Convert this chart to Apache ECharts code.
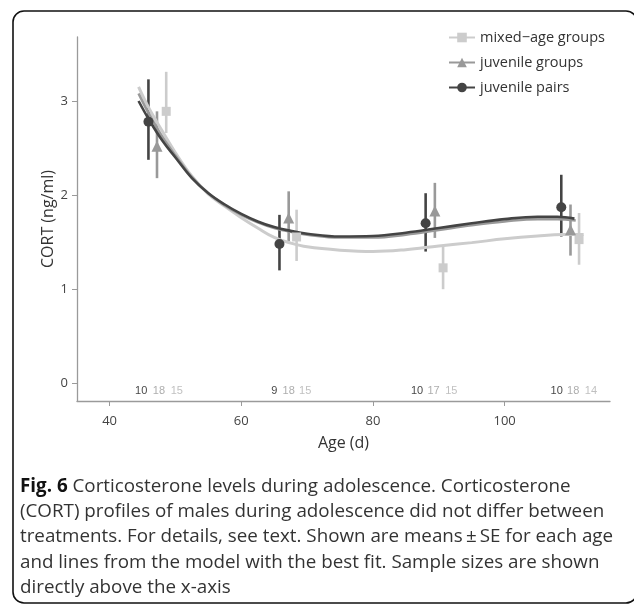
<!DOCTYPE html>
<html><head><meta charset="utf-8">
<script src="https://cdn.jsdelivr.net/npm/echarts@6/dist/echarts.min.js"></script>
<style>html,body{margin:0;padding:0;background:#fff}#c{width:634px;height:605px}</style>
</head><body><div id="c"></div>
<script>
// ---- data ----
const seriesNames = ['mixed\u2212age groups', 'juvenile groups', 'juvenile pairs'];
// point means and SE bounds: [age, mean, low, high]
const mixedPoints = [[48.6, 2.89, 2.66, 3.31], [68.4, 1.555, 1.30, 1.845], [90.65, 1.227, 1.00, 1.456], [111.3, 1.527, 1.26, 1.81]];
const groupPoints = [[47.2, 2.52, 2.18, 2.89], [67.2, 1.757, 1.51, 2.04], [89.4, 1.83, 1.545, 2.13], [110.0, 1.633, 1.357, 1.90]];
const pairPoints  = [[45.9, 2.78, 2.375, 3.23], [65.8, 1.48, 1.20, 1.79], [88.0, 1.70, 1.40, 2.02], [108.6, 1.87, 1.56, 2.216]];
// model fit curves [age, CORT]
const mixedCurve = [[44.4,3.15],[46,2.92],[48,2.68],[50,2.45],[52.5,2.20],[55,2.01],[57.5,1.88],[60,1.76],[62.5,1.65],[65,1.55],[67.5,1.49],[70,1.45],[75,1.415],[80,1.40],[85,1.42],[90,1.46],[95,1.495],[100,1.535],[105,1.565],[108.8,1.58],[112,1.58]];
const groupCurve = [[44.4,3.08],[46,2.86],[48,2.62],[50,2.42],[52.5,2.19],[55,2.02],[57.5,1.89],[60,1.79],[62.5,1.71],[65,1.65],[67.5,1.61],[70,1.58],[75,1.55],[80,1.55],[85,1.58],[90,1.63],[95,1.68],[100,1.72],[105,1.745],[108,1.745],[110.8,1.73]];
const pairCurve  = [[44.4,3.00],[46,2.80],[48,2.58],[50,2.40],[52.5,2.18],[55,2.02],[57.5,1.90],[60,1.80],[62.5,1.72],[65,1.66],[67.5,1.62],[70,1.59],[75,1.56],[80,1.565],[85,1.60],[90,1.65],[95,1.70],[100,1.745],[105,1.77],[108,1.77],[110.6,1.75]];
// sample sizes [labelAge, n]
const pairN  = [[44.8, 10], [65.0, 9], [86.7, 10], [107.9, 10]];
const groupN = [[47.5, 18], [67.2, 18], [89.2, 17], [110.4, 18]];
const mixedN = [[50.2, 15], [69.7, 15], [91.9, 15], [113.1, 14]];
const xTicks = [40, 60, 80, 100];
const yTicks = [0, 1, 2, 3];
const captionLines = [
  ['Fig. 6', ' Corticosterone levels during adolescence. Corticosterone'],
  ['', '(CORT) profiles of males during adolescence did not differ between'],
  ['', 'treatments. For details, see text. Shown are means\u2009\u00b1\u2009SE for each age'],
  ['', 'and lines from the model with the best fit. Sample sizes are shown'],
  ['', 'directly above the x-axis']
];

// ---- styles ----
const colors = ['#cccccc', '#999999', '#444444'];
const nColors = ['#b0b0b0', '#999999', '#111111'];
const symbols = ['rect', 'triangle', 'circle'];
const symSizes = [9, 11, 10];
const FONT = 'Open Sans';
const N_Y = -0.085;

const chart = echarts.init(document.getElementById('c'), null, {renderer: 'canvas'});

function errBar(name, pts, color) {
  return {
    type: 'custom', name: name, silent: true, z: 2,
    data: pts.map(p => [p[0], p[2], p[3]]),
    renderItem: (params, api) => {
      const a = api.coord([api.value(0), api.value(1)]);
      const b = api.coord([api.value(0), api.value(2)]);
      return {type: 'line', shape: {x1: a[0], y1: a[1], x2: b[0], y2: b[1]},
        style: {stroke: color, lineWidth: 2.6}};
    }
  };
}
function curve(name, data, i) {
  return {type: 'line', name: name, data: data, smooth: 0.4, showSymbol: false,
    symbol: symbols[i], symbolSize: symSizes[i], z: 3, silent: true,
    lineStyle: {color: colors[i], width: i === 0 ? 3 : 2.6},
    itemStyle: {color: colors[i]}};
}
function points(name, pts, i) {
  return {type: 'scatter', name: name, data: pts.map(p => [p[0], p[1]]),
    symbol: symbols[i], symbolSize: symSizes[i], z: 4, silent: true,
    itemStyle: {color: colors[i], opacity: 1}};
}
function nLabels(name, arr, i) {
  return {type: 'scatter', name: name + ' n', data: arr.map(p => [p[0], N_Y, p[1]]),
    symbolSize: 0, silent: true, z: 5,
    label: {show: true, position: 'inside', formatter: p => String(p.value[2]),
      color: nColors[i], fontSize: 11, fontFamily: 'Liberation Sans'}};
}

const groups = [mixedPoints, groupPoints, pairPoints];
const curves = [mixedCurve, groupCurve, pairCurve];
const ns = [mixedN, groupN, pairN];
const series = [];
for (let i = 0; i < 3; i++) series.push(curve(seriesNames[i], curves[i], i));
for (let i = 0; i < 3; i++) series.push(errBar(seriesNames[i], groups[i], colors[i]));
for (let i = 0; i < 3; i++) series.push(points(seriesNames[i], groups[i], i));
for (let i = 0; i < 3; i++) series.push(nLabels(seriesNames[i], ns[i], i));

const axisCol = '#9a9a9a';
const option = {
  animation: false,
  backgroundColor: '#fff',
  textStyle: {fontFamily: FONT},
  grid: {left: 77, right: 24, top: 37, bottom: 204, containLabel: false},
  legend: {
    data: seriesNames, orient: 'vertical', left: 443, top: 25,
    itemWidth: 26, itemHeight: 12, itemGap: 10,
    textStyle: {color: '#333', fontSize: 14.5, fontFamily: FONT},
    selectedMode: false
  },
  xAxis: {
    type: 'value', min: 35.05, max: 116,
    name: 'Age (d)', nameLocation: 'middle', nameGap: 34, nameMoveOverlap: false,
    nameTextStyle: {color: '#333', fontSize: 16, fontFamily: FONT},
    axisLine: {onZero: false, lineStyle: {color: axisCol, width: 1.3}},
    axisTick: {show: true, length: 5, lineStyle: {color: axisCol}, customValues: xTicks},
    axisLabel: {color: '#444', fontSize: 13, margin: 14, customValues: xTicks, fontFamily: FONT},
    splitLine: {show: false}
  },
  yAxis: {
    type: 'value', min: -0.188, max: 3.68,
    name: 'CORT (ng/ml)', nameLocation: 'middle', nameGap: 21, nameRotate: 90, nameMoveOverlap: false,
    nameTextStyle: {color: '#333', fontSize: 16, fontFamily: FONT},
    axisLine: {show: true, onZero: false, lineStyle: {color: axisCol, width: 1.3}},
    axisTick: {show: true, length: 5, lineStyle: {color: axisCol}, customValues: yTicks},
    axisLabel: {color: '#444', fontSize: 13, margin: 9, customValues: yTicks, fontFamily: FONT},
    splitLine: {show: false}
  },
  graphic: [
    {type: 'rect', shape: {x: 13, y: 11, width: 624, height: 592, r: 11}, silent: true,
      style: {fill: 'none', stroke: '#111', lineWidth: 1.6}, z: 0}
  ].concat(captionLines.map((ln, k) => ({
    type: 'text', left: 20, top: 477 + k * 25.3, silent: true,
    style: {
      text: (ln[0] ? '{b|' + ln[0] + '}' : '') + '{n|' + ln[1] + '}',
      rich: {
        b: {fontFamily: FONT, fontSize: 18.8, fontWeight: 'bold', fill: '#111', color: '#111'},
        n: {fontFamily: FONT, fontSize: 18.8, fill: '#333', color: '#333'}
      },
      fontFamily: FONT, fontSize: 18.8, fill: '#333'
    }
  }))),
  series: series
};
chart.setOption(option);
</script></body></html>
